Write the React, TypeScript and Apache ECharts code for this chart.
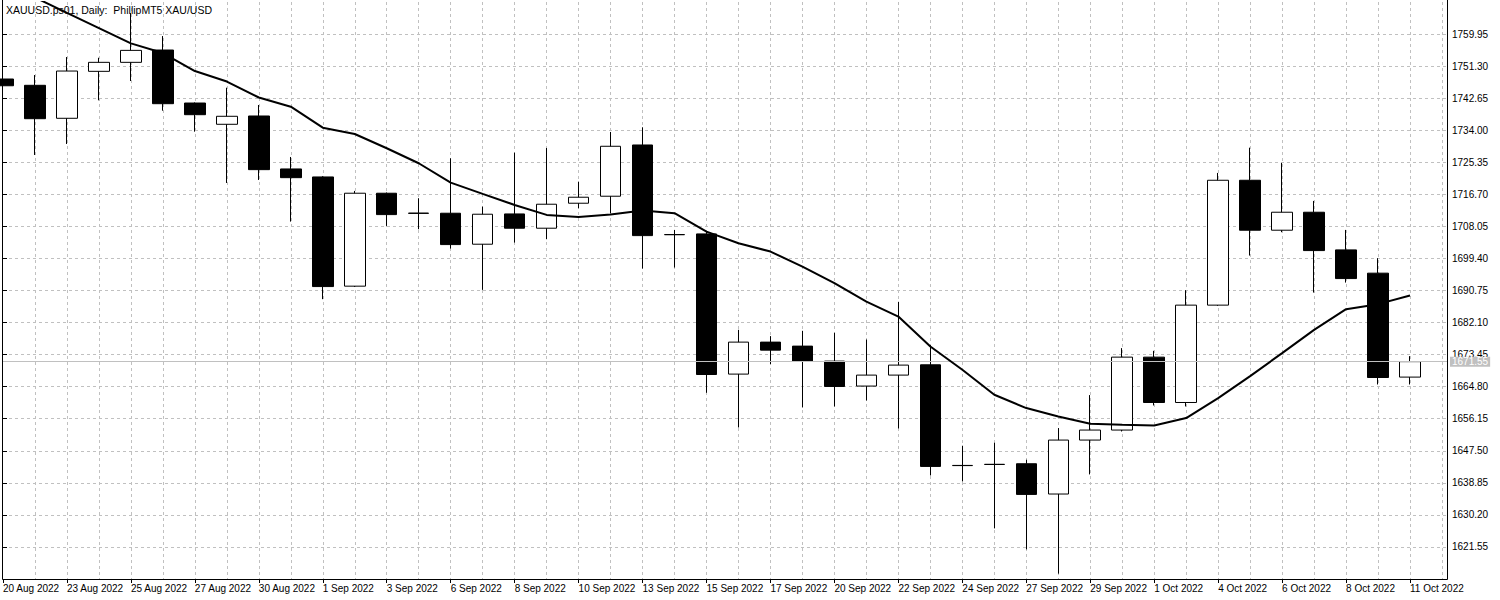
import React, { useEffect, useRef } from "react";
import * as echarts from "echarts";

// Daily candles (trading days as labelled on the chart)
const dates = [
  "20 Aug 2022", "22 Aug 2022", "23 Aug 2022", "24 Aug 2022", "25 Aug 2022", "26 Aug 2022", "27 Aug 2022",
  "29 Aug 2022", "30 Aug 2022", "31 Aug 2022", "1 Sep 2022", "2 Sep 2022", "3 Sep 2022", "5 Sep 2022",
  "6 Sep 2022", "7 Sep 2022", "8 Sep 2022", "9 Sep 2022", "10 Sep 2022", "12 Sep 2022", "13 Sep 2022",
  "14 Sep 2022", "15 Sep 2022", "16 Sep 2022", "17 Sep 2022", "19 Sep 2022", "20 Sep 2022", "21 Sep 2022",
  "22 Sep 2022", "23 Sep 2022", "24 Sep 2022", "26 Sep 2022", "27 Sep 2022", "28 Sep 2022", "29 Sep 2022",
  "30 Sep 2022", "1 Oct 2022", "3 Oct 2022", "4 Oct 2022", "5 Oct 2022", "6 Oct 2022", "7 Oct 2022",
  "8 Oct 2022", "10 Oct 2022", "11 Oct 2022",
];

const opens = [
  1747.82, 1746.12, 1737.22, 1749.89, 1752.32, 1755.64, 1741.34, 1735.6, 1737.84, 1723.55,
  1721.39, 1691.92, 1717.0, 1711.55, 1711.6, 1703.24, 1711.41, 1707.56, 1714.3, 1716.19,
  1730.02, 1705.8, 1706.02, 1668.19, 1676.82, 1675.74, 1671.7, 1664.96, 1667.92, 1670.7,
  1643.5, 1643.8, 1644.0, 1635.83, 1650.39, 1653.09, 1672.77, 1660.53, 1686.8, 1720.5,
  1707.02, 1711.87, 1701.71, 1695.43, 1667.38,
];

const closes = [
  1746.0, 1737.11, 1749.97, 1752.32, 1755.55, 1741.16, 1738.19, 1737.76, 1723.36, 1721.2,
  1691.81, 1717.0, 1711.23, 1711.65, 1703.14, 1711.33, 1707.56, 1714.03, 1715.92, 1729.67,
  1705.56, 1705.85, 1668.08, 1676.82, 1674.66, 1671.59, 1664.85, 1667.92, 1670.62, 1643.28,
  1643.55, 1643.85, 1635.73, 1650.39, 1653.09, 1672.77, 1660.53, 1686.8, 1720.5, 1707.02,
  1711.87, 1701.52, 1693.97, 1667.27, 1671.55,
];

const lows = [
  1745.5, 1727.32, 1730.29, 1742.07, 1747.28, 1739.27, 1733.61, 1719.77, 1720.58, 1709.34,
  1688.41, 1691.7, 1708.18, 1707.29, 1702.06, 1690.92, 1703.68, 1704.59, 1712.95, 1711.6,
  1696.67, 1696.94, 1663.15, 1653.79, 1670.89, 1659.19, 1659.46, 1661.07, 1653.52, 1640.85,
  1639.23, 1626.56, 1620.9, 1614.34, 1641.12, 1652.71, 1659.73, 1659.46, 1686.6, 1700.17,
  1706.48, 1690.19, 1692.89, 1665.39, 1665.39,
];

const highs = [
  1748.3, 1748.89, 1753.75, 1753.56, 1765.61, 1759.41, 1741.5, 1745.47, 1740.81, 1726.78,
  1721.6, 1717.62, 1717.2, 1715.65, 1726.43, 1713.38, 1727.94, 1729.21, 1720.12, 1733.53,
  1734.79, 1707.1, 1706.56, 1680.14, 1678.44, 1679.87, 1679.33, 1677.52, 1687.69, 1676.01,
  1648.86, 1649.67, 1645.08, 1653.63, 1662.53, 1675.2, 1674.47, 1690.84, 1722.47, 1729.29,
  1725.17, 1714.92, 1707.1, 1699.47, 1673.04,
];

// Moving average line
const movingAverage = [
  1773.97, 1769.82, 1765.69, 1761.57, 1757.44, 1754.83, 1749.97, 1747.14, 1742.83, 1740.35,
  1734.68, 1732.99, 1729.13, 1725.09, 1719.85, 1716.81, 1713.84, 1711.15, 1710.61, 1711.23,
  1712.36, 1711.6, 1706.64, 1703.51, 1701.25, 1697.2, 1692.73, 1687.77, 1683.72, 1675.63,
  1669.35, 1662.61, 1659.02, 1656.76, 1654.79, 1654.52, 1654.33, 1656.33, 1661.72, 1667.65,
  1673.85, 1680.14, 1685.72, 1687.07, 1689.38,
];

const priceTicksMin = 1612.9;
const priceTicksMax = 1768.6;
const priceStep = 8.65;
const lastPrice = 1671.55;
const titleText = "XAUUSD.ps01, Daily:  PhillipMT5 XAU/USD";

const FONT = "Liberation Sans, Arial, sans-serif";

export default function App() {
  const ref = useRef<HTMLDivElement>(null);

  useEffect(() => {
    if (!ref.current) return;
    const chart = echarts.init(ref.current, null, { renderer: "svg" });
    const xMax = 1445 / 32;
    const candleData = dates.map((_, i) => [i, opens[i], closes[i], lows[i], highs[i]]);
    const maData = movingAverage.map((v, i) => [i, v]);

    chart.setOption({
      animation: false,
      backgroundColor: "#ffffff",
      title: {
        text: titleText,
        left: 6,
        top: 4,
        padding: 0,
        textStyle: { fontSize: 10.5, fontWeight: "normal", color: "#000", fontFamily: FONT },
      },
      grid: { left: 2, right: 53, top: 2, bottom: 21, show: false },
      graphic: [
        {
          type: "rect",
          shape: { x: 2.5, y: -2, width: 1445, height: 581.5 },
          style: { fill: "none", stroke: "#000", lineWidth: 1 },
          silent: true,
        },
      ],
      xAxis: [
        {
          type: "value",
          min: 0,
          max: xMax,
          interval: 2,
          position: "bottom",
          axisLine: { show: false },
          axisTick: { show: true, length: 4, lineStyle: { color: "#000" } },
          axisLabel: {
            show: true,
            align: "left",
            margin: 4,
            color: "#000",
            fontSize: 10,
            fontFamily: FONT,
            showMaxLabel: false,
            formatter: (v: number) =>
              Number.isInteger(v) && v % 2 === 0 && dates[v] ? dates[v] : "",
          },
          splitLine: { show: false },
        },
        {
          type: "value",
          min: 0,
          max: xMax,
          interval: 1,
          position: "bottom",
          axisLine: { show: false },
          axisTick: { show: false },
          axisLabel: { show: false },
          splitLine: {
            show: true,
            showMinLine: false,
            showMaxLine: false,
            lineStyle: { color: "#c0c0c0", type: [3, 3], width: 1 },
          },
        },
      ],
      yAxis: {
        type: "value",
        position: "right",
        min: priceTicksMin,
        max: priceTicksMax,
        interval: priceStep,
        axisLine: { show: false },
        axisTick: { show: true, length: 4, lineStyle: { color: "#000" } },
        axisLabel: {
          margin: 5,
          color: "#000",
          fontSize: 10,
          fontFamily: FONT,
          showMinLabel: false,
          showMaxLabel: false,
          formatter: (v: number) => v.toFixed(2),
        },
        splitLine: {
          show: true,
          showMinLine: false,
          showMaxLine: false,
          lineStyle: { color: "#c0c0c0", type: [3, 3], width: 1 },
        },
      },
      series: [
        {
          type: "candlestick",
          xAxisIndex: 0,
          yAxisIndex: 0,
          data: candleData,
          encode: { x: 0, y: [1, 2, 3, 4] },
          barWidth: 21,
          clip: true,
          itemStyle: {
            color: "#ffffff",
            color0: "#000000",
            borderColor: "#000000",
            borderColor0: "#000000",
            borderWidth: 1,
          },
          markLine: {
            silent: true,
            symbol: ["none", "none"],
            lineStyle: { color: "#c0c0c0", type: "solid", width: 1 },
            label: {
              show: true,
              position: "end",
              distance: 3,
              formatter: () => lastPrice.toFixed(2),
              color: "#ffffff",
              backgroundColor: "#c0c0c0",
              padding: [0, 2],
              fontSize: 10,
              fontFamily: FONT,
            },
            data: [{ yAxis: lastPrice }],
          },
        },
        {
          type: "line",
          xAxisIndex: 0,
          yAxisIndex: 0,
          data: maData,
          symbol: "none",
          clip: true,
          z: 5,
          lineStyle: { color: "#000000", width: 2 },
        },
      ],
    });

    return () => chart.dispose();
  }, []);

  return (
    <div
      ref={ref}
      style={{ position: "fixed", left: 0, top: 0, width: 1500, height: 600, background: "#fff" }}
    />
  );
}
